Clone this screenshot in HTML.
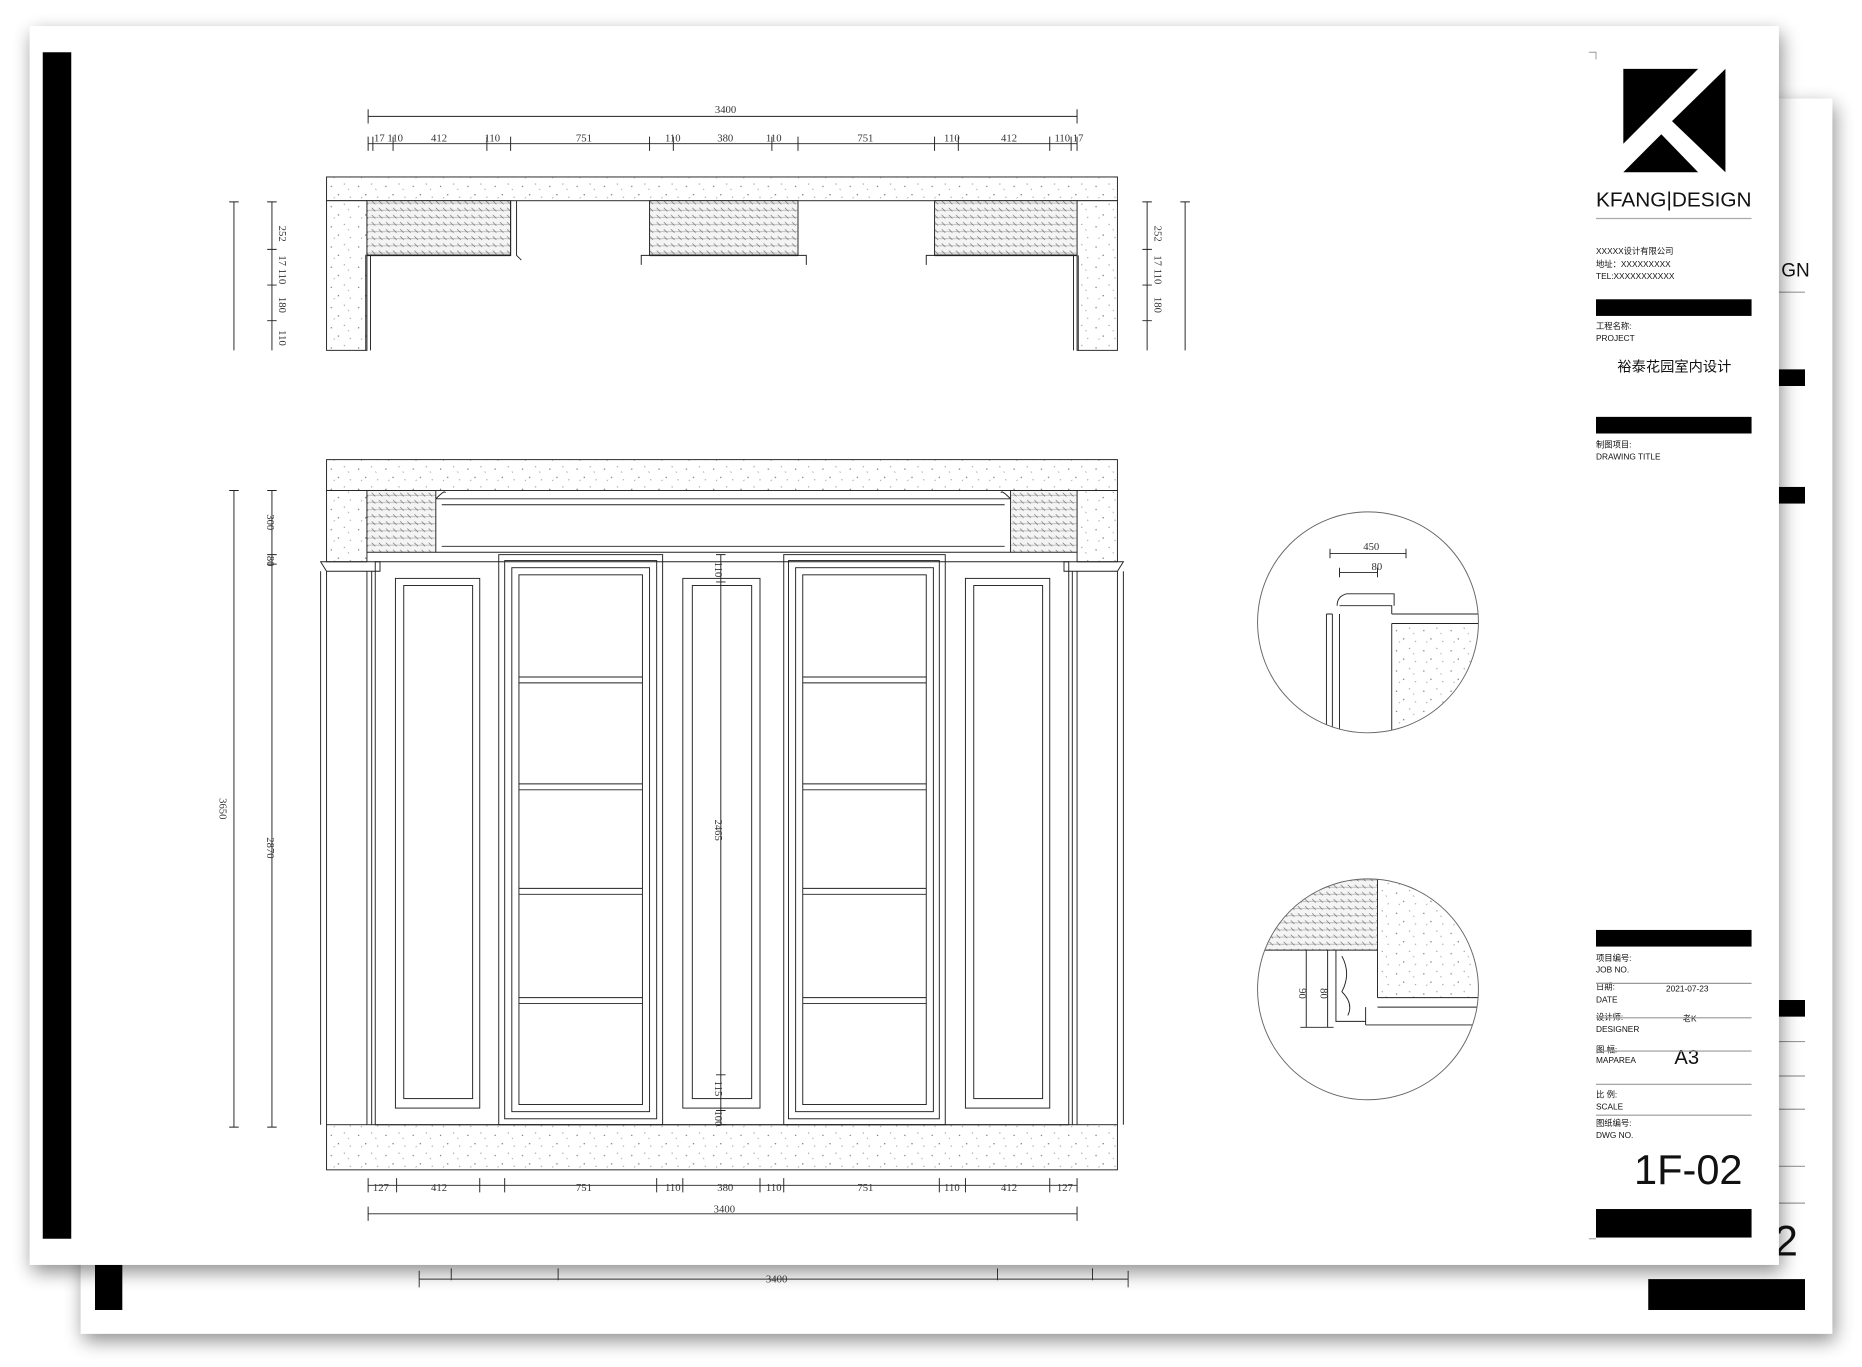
<!DOCTYPE html>
<html><head><meta charset="utf-8"><style>
html,body{margin:0;padding:0;background:#fff;width:1862px;height:1367px;overflow:hidden}
svg{display:block}
text{font-family:"Liberation Sans","Noto Sans CJK SC",sans-serif;fill:#111}
.d{font-family:"Liberation Serif",serif;font-size:9px;fill:#333}
</style></head><body>
<svg width="1862" height="1367" viewBox="0 0 1568 1151" preserveAspectRatio="none" xmlns="http://www.w3.org/2000/svg">
<defs>
<filter id="sh" x="-5%" y="-5%" width="110%" height="115%"><feGaussianBlur in="SourceAlpha" stdDeviation="8"/><feOffset dx="2" dy="6"/><feComponentTransfer><feFuncA type="linear" slope="0.45"/></feComponentTransfer><feMerge><feMergeNode/><feMergeNode in="SourceGraphic"/></feMerge></filter>
<pattern id="dots" width="23" height="17" patternUnits="userSpaceOnUse"><rect width="23" height="17" fill="#fff"/><circle cx="3" cy="4" r=".6" fill="#777"/><circle cx="14" cy="2" r=".5" fill="#888"/><circle cx="9" cy="11" r=".6" fill="#777"/><circle cx="19" cy="13" r=".5" fill="#888"/><path d="M17 6l1 1M5 14l1-1" stroke="#888" stroke-width=".5"/></pattern>
<pattern id="hat" width="6" height="6" patternUnits="userSpaceOnUse"><rect width="6" height="6" fill="#f4f4f4"/><path d="M0 3h6" stroke="#aaa" stroke-width=".6"/><path d="M1 1l3 3" stroke="#666" stroke-width=".5"/></pattern>
</defs>
<rect width="1568" height="1151" fill="#fff"/>
<!-- back page -->
<rect x="68" y="83" width="1475" height="1040" fill="#fff" filter="url(#sh)"/>
<rect x="80" y="1065" width="23" height="38" fill="#000"/>
<rect x="1388" y="1077" width="132" height="26" fill="#000"/>
<rect x="1498" y="311" width="22" height="14" fill="#000"/>
<rect x="1498" y="410" width="22" height="14" fill="#000"/>
<rect x="1498" y="842" width="22" height="14" fill="#000"/>
<g stroke="#999" stroke-width="1"><path d="M1498 246h22M1498 877h22M1498 906h22M1498 934h22M1498 982h22M1498 1013h22"/></g>
<text x="1500" y="233" font-size="16">GN</text>
<text x="1494" y="1057" font-size="36">2</text>
<g stroke="#333" stroke-width=".8"><path d="M353 1077h597M353 1070v14M950 1070v14M380 1068v10M470 1068v10M840 1068v10M920 1068v10"/></g>
<text x="645" y="1080" class="d">3400</text>
<!-- front page -->
<rect x="25" y="22" width="1473" height="1043" fill="#fff" filter="url(#sh)"/>
<rect x="36" y="44" width="24" height="999" fill="#000"/>
<path d="M1338 44h6v6" fill="none" stroke="#999" stroke-width=".8"/>
<!-- logo -->
<polygon points="1367,58 1430,58 1367,121" fill="#000"/>
<polygon points="1453,58 1453,145 1408,102" fill="#000"/>
<polygon points="1367,145 1399,113 1430,145" fill="#000"/>
<text x="1344" y="174" font-size="17" textLength="131" lengthAdjust="spacingAndGlyphs">KFANG|DESIGN</text>
<path d="M1344 184h131" stroke="#aaa" stroke-width="1"/>
<text x="1344" y="214" font-size="7">XXXXX设计有限公司</text>
<text x="1344" y="225" font-size="7">地址：XXXXXXXXX</text>
<text x="1344" y="235" font-size="7">TEL:XXXXXXXXXXX</text>
<rect x="1344" y="252" width="131" height="14" fill="#000"/>
<text x="1344" y="277" font-size="7">工程名称:</text>
<text x="1344" y="287" font-size="7">PROJECT</text>
<text x="1410" y="313" font-size="12" text-anchor="middle">裕泰花园室内设计</text>
<rect x="1344" y="351" width="131" height="14" fill="#000"/>
<text x="1344" y="377" font-size="7">制图项目:</text>
<text x="1344" y="387" font-size="7">DRAWING TITLE</text>
<rect x="1344" y="783" width="131" height="14" fill="#000"/>
<g font-size="7"><text x="1344" y="809">项目编号:</text><text x="1344" y="819">JOB NO.</text>
<text x="1344" y="833">日期:</text><text x="1344" y="844">DATE</text><text x="1403" y="835">2021-07-23</text>
<text x="1344" y="859">设计师:</text><text x="1344" y="869">DESIGNER</text><text x="1417" y="860">老K</text>
<text x="1344" y="886">图 幅:</text><text x="1344" y="895">MAPAREA</text>
<text x="1344" y="924">比 例:</text><text x="1344" y="934">SCALE</text>
<text x="1344" y="948">图纸编号:</text><text x="1344" y="958">DWG NO.</text></g>
<text x="1410" y="896" font-size="17">A3</text>
<text x="1376" y="997" font-size="35">1F-02</text>
<g stroke="#999" stroke-width="1"><path d="M1344 828h131M1344 857h131M1344 885h131M1344 913h131M1344 939h131"/></g>
<rect x="1344" y="1018" width="131" height="24" fill="#000"/>
<path d="M1338 1043h6" stroke="#aaa"/>

<!-- PLAN (top) -->
<g stroke="#222" stroke-width=".8" fill="none">
<path d="M310 98h597M310 92v12M907 92v12"/>
<path d="M310 121h597M310 115v12M314 115v12M331 115v12M410 115v12M430 115v12M547 115v12M567 115v12M650 115v12M672 115v12M787 115v12M807 115v12M884 115v12M902 115v12M907 115v12"/>
</g>
<g class="d"><text x="602" y="95" class="d">3400</text><text x="315" y="119" class="d">17 110</text><text x="363" y="119" class="d">412</text><text x="408" y="119" class="d">110</text><text x="485" y="119" class="d">751</text><text x="560" y="119" class="d">110</text><text x="604" y="119" class="d">380</text><text x="645" y="119" class="d">110</text><text x="722" y="119" class="d">751</text><text x="795" y="119" class="d">110</text><text x="843" y="119" class="d">412</text><text x="888" y="119" class="d">110 17</text></g>
<rect x="275" y="149" width="666" height="20" fill="url(#dots)" stroke="#222" stroke-width=".8"/>
<rect x="275" y="169" width="34" height="126" fill="url(#dots)" stroke="#222" stroke-width=".8"/>
<rect x="907" y="169" width="34" height="126" fill="url(#dots)" stroke="#222" stroke-width=".8"/>
<rect x="309" y="169" width="121" height="46" fill="url(#hat)" stroke="#222" stroke-width=".8"/>
<rect x="547" y="169" width="125" height="46" fill="url(#hat)" stroke="#222" stroke-width=".8"/>
<rect x="787" y="169" width="120" height="46" fill="url(#hat)" stroke="#222" stroke-width=".8"/>
<g stroke="#222" stroke-width=".8" fill="none">
<path d="M430 169v46h-3M435 169v46l4 4M547 215h-7v8M672 215h7v8M787 215h-7v8M308 215v80M312 215v80M904 215v80M908 215v80"/>
<path d="M309 215h121M547 215h125M787 215h120" stroke-width="1.4"/>
<path d="M197 170v125M229 170v125M193 170h8M225 170h8M225 210h8M225 240h8M225 270h8"/>
</g>
<g class="d"><text transform="translate(235,190) rotate(90)" class="d">252</text><text transform="translate(235,215) rotate(90)" class="d">17 110</text><text transform="translate(235,250) rotate(90)" class="d">180</text><text transform="translate(235,278) rotate(90)" class="d">110</text></g>
<g stroke="#222" stroke-width=".8" fill="none"><path d="M966 170v125M998 170v125M962 170h8M994 170h8M962 210h8M962 240h8M962 270h8"/></g>
<g class="d"><text transform="translate(972,190) rotate(90)" class="d">252</text><text transform="translate(972,215) rotate(90)" class="d">17 110</text><text transform="translate(972,250) rotate(90)" class="d">180</text></g>

<!-- ELEVATION -->
<rect x="275" y="387" width="666" height="26" fill="url(#dots)" stroke="#222" stroke-width=".8"/>
<rect x="275" y="413" width="34" height="60" fill="url(#dots)" stroke="#222" stroke-width=".8"/>
<rect x="907" y="413" width="34" height="60" fill="url(#dots)" stroke="#222" stroke-width=".8"/>
<rect x="309" y="413" width="58" height="52" fill="url(#hat)" stroke="#222" stroke-width=".8"/>
<rect x="851" y="413" width="56" height="52" fill="url(#hat)" stroke="#222" stroke-width=".8"/>
<rect x="275" y="947" width="666" height="38" fill="url(#dots)" stroke="#222" stroke-width=".8"/>
<g stroke="#222" stroke-width=".8" fill="none">
<path d="M367 420h484M367 465h484M372 425h474M372 460h474M367 420q8 -8 8 -5M851 420q-8 -8 -8 -5"/>
<path d="M270 473h50v8h-45zM946 473h-50v8h45z"/>
<path d="M270 481v466M275 481v466M941 481v466M946 481v466M309 481v466M313 481v466M903 481v466M907 481v466"/>
<path d="M316 473h584v474h-584z"/>
<rect x="333" y="487" width="71" height="446"/><rect x="340" y="493" width="58" height="432"/>
<rect x="813" y="487" width="71" height="446"/><rect x="820" y="493" width="58" height="432"/>
<rect x="575" y="487" width="65" height="446"/><rect x="583" y="493" width="50" height="432"/>
<rect x="420" y="467" width="138" height="480"/><rect x="425" y="472" width="128" height="470"/><rect x="431" y="478" width="116" height="458"/><rect x="437" y="484" width="104" height="446"/>
<rect x="660" y="467" width="136" height="480"/><rect x="664" y="472" width="127" height="470"/><rect x="670" y="478" width="116" height="458"/><rect x="676" y="484" width="104" height="446"/>
<path d="M437 570h104M437 575h104M437 660h104M437 665h104M437 748h104M437 753h104M437 840h104M437 845h104"/>
<path d="M676 570h104M676 575h104M676 660h104M676 665h104M676 748h104M676 753h104M676 840h104M676 845h104"/>
<path d="M197 413v536M229 413v536M193 413h8M193 949h8M225 413h8M225 467h8M225 475h8M225 949h8"/>
<path d="M607 467v480M603 467h8M603 490h8M603 905h8M603 935h8M603 947h8"/>
<path d="M310 998h597M310 992v12M334 992v12M404 992v12M425 992v12M553 992v12M575 992v12M640 992v12M660 992v12M791 992v12M813 992v12M884 992v12M907 992v12"/>
<path d="M310 1022h597M310 1016v12M907 1016v12"/>
</g>
<g class="d"><text transform="translate(185,672) rotate(90)" class="d">3650</text><text transform="translate(225,705) rotate(90)" class="d">2870</text><text transform="translate(225,433) rotate(90)" class="d">300</text><text transform="translate(225,468) rotate(90)" class="d">80</text><text transform="translate(602,690) rotate(90)" class="d">2465</text><text transform="translate(602,473) rotate(90)" class="d">110</text><text transform="translate(602,910) rotate(90)" class="d">115</text><text transform="translate(602,935) rotate(90)" class="d">100</text>
<text x="314" y="1003" class="d">127</text><text x="363" y="1003" class="d">412</text><text x="485" y="1003" class="d">751</text><text x="560" y="1003" class="d">110</text><text x="604" y="1003" class="d">380</text><text x="645" y="1003" class="d">110</text><text x="722" y="1003" class="d">751</text><text x="795" y="1003" class="d">110</text><text x="843" y="1003" class="d">412</text><text x="890" y="1003" class="d">127</text><text x="601" y="1021" class="d">3400</text></g>

<!-- detail circles -->
<clipPath id="c1"><circle cx="1152" cy="524" r="93"/></clipPath>
<clipPath id="c2"><circle cx="1152" cy="833" r="93"/></clipPath>
<g clip-path="url(#c1)" stroke="#222" stroke-width=".8" fill="none">
<rect x="1172" y="525" width="90" height="100" fill="url(#dots)" stroke="none"/>
<path d="M1172 517h80M1172 525h80M1172 525v100M1117 517v110M1122 517v110M1128 517v110M1122 517h-5M1128 510h44v7M1126 510q0-8 8-10h40v10"/>
<path d="M1120 466h64M1120 462v8M1184 462v8M1128 478v8M1160 478v8M1128 482h32"/>
</g>
<circle cx="1152" cy="524" r="93" fill="none" stroke="#666" stroke-width=".8"/>
<text x="1148" y="463" class="d">450</text><text x="1155" y="480" class="d">80</text>
<g clip-path="url(#c2)" stroke="#222" stroke-width=".8" fill="none">
<rect x="1050" y="740" width="110" height="60" fill="url(#hat)" stroke="none"/>
<rect x="1160" y="740" width="90" height="100" fill="url(#dots)" stroke="none"/>
<path d="M1050 800h110M1160 740v100M1160 840h90M1160 848h90M1150 848v15M1150 863h100M1125 800v60h25M1130 805q8 15 0 30q10 10 5 20"/>
<path d="M1100 800v65M1118 800v65M1095 865h28"/>
</g>
<circle cx="1152" cy="833" r="93" fill="none" stroke="#666" stroke-width=".8"/>
<text transform="translate(1094,832) rotate(90)" class="d">90</text><text transform="translate(1112,832) rotate(90)" class="d">80</text>
</svg>
</body></html>
